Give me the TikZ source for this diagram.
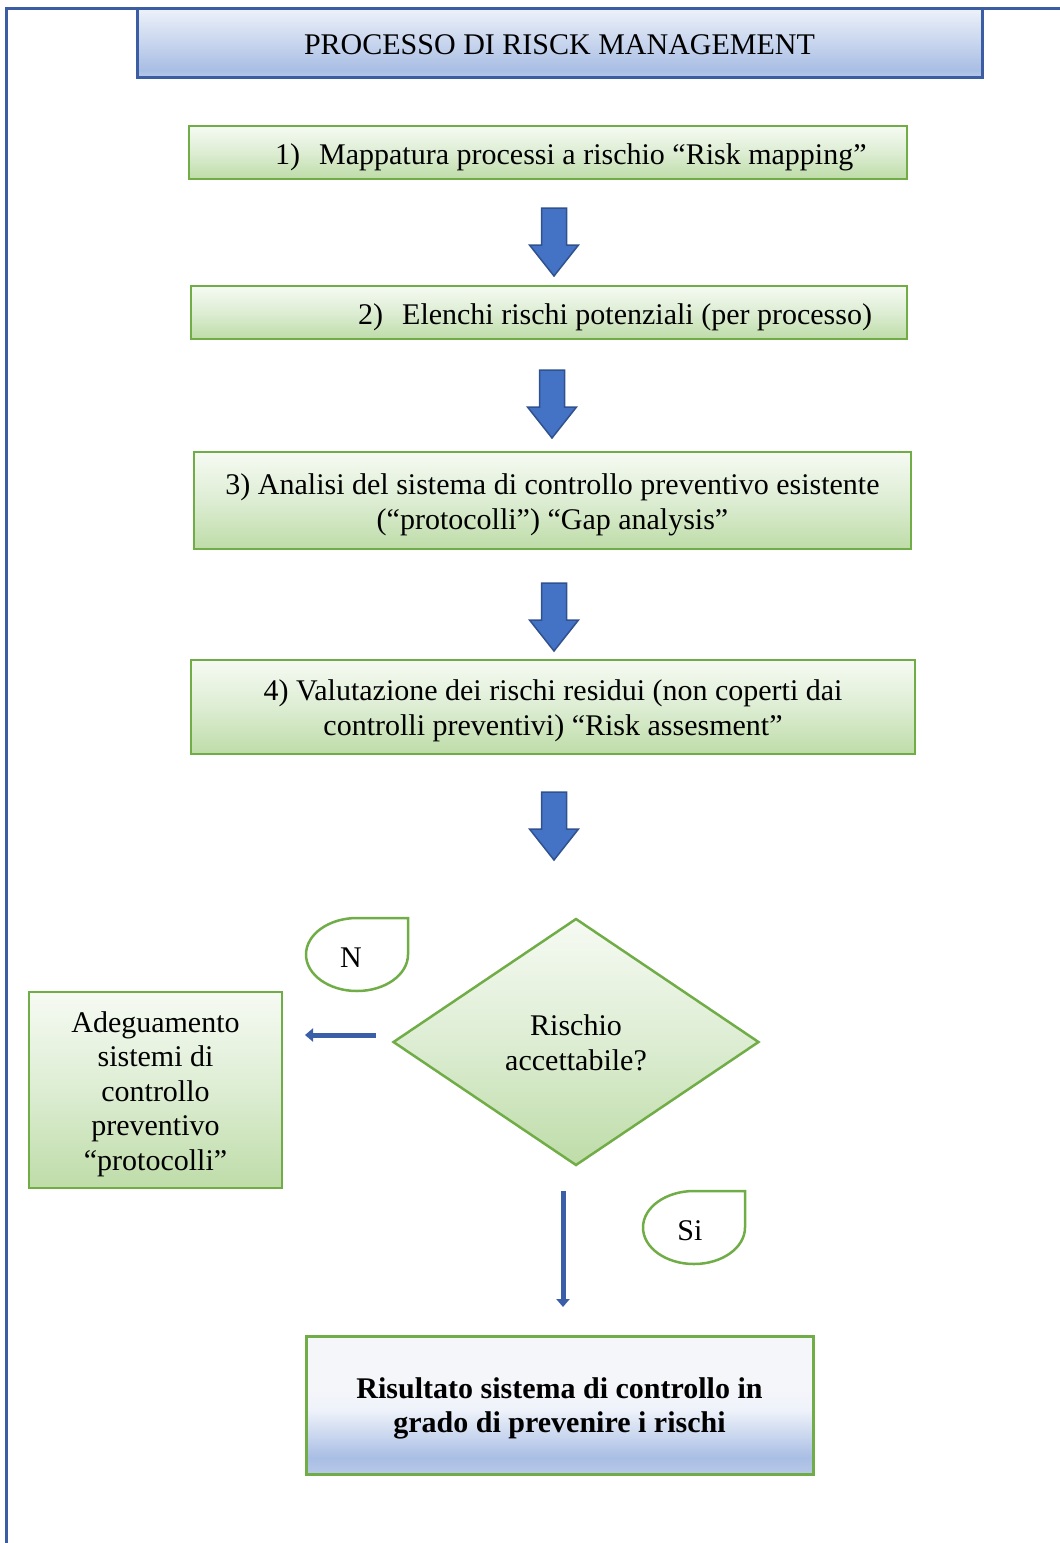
\documentclass[tikz,border=0pt]{standalone}
\usepackage{fontspec}
\setmainfont{Liberation Serif}
\usetikzlibrary{shapes.geometric,arrows.meta}
\definecolor{gborder}{HTML}{70AD47}
\definecolor{bborder}{HTML}{3A5DA3}
\definecolor{afill}{HTML}{4472C4}
\definecolor{aborder}{HTML}{2F528F}
\definecolor{gtop}{HTML}{F6FAF3}
\definecolor{gmid}{HTML}{DDEDD3}
\definecolor{gbot}{HTML}{BEDCA8}
\definecolor{btop}{HTML}{EEF2FA}
\definecolor{bbot}{HTML}{A9BEE4}
\definecolor{bedge}{HTML}{B8C9E9}
\definecolor{wtop}{HTML}{F5F6FA}
\definecolor{thinblue}{HTML}{3A5EA8}
\pgfdeclareverticalshading{greenshade}{100bp}{color(0bp)=(gbot); color(25bp)=(gbot); color(50bp)=(gmid); color(75bp)=(gtop); color(100bp)=(gtop)}
\pgfdeclareverticalshading{titleshade}{100bp}{color(0bp)=(bedge); color(25bp)=(bedge); color(30bp)=(bbot); color(75bp)=(btop); color(100bp)=(btop)}
\pgfdeclareverticalshading{resultshade}{100bp}{color(0bp)=(bedge); color(25bp)=(bedge); color(31bp)=(bbot); color(48bp)=(btop); color(56bp)=(wtop); color(75bp)=(wtop); color(100bp)=(wtop)}
\tikzset{
  txt/.style={font=\fontsize{30}{35}\selectfont, inner sep=0pt, align=center},
  gbox/.style={draw=gborder, line width=2.5pt, shade, shading=greenshade, inner sep=0pt},
  titlebox/.style={rectangle, draw=bborder, line width=3pt, shade, shading=titleshade, inner sep=0pt},
  resbox/.style={rectangle, draw=gborder, line width=3pt, shade, shading=resultshade, inner sep=0pt},
  blockarrow/.style={fill=afill, draw=aborder, line width=1.5pt, line join=miter},
  downarr/.pic={\draw[blockarrow] (-12.5,0) -- (12.5,0) -- (12.5,37) -- (24.5,37) -- (0,68) -- (-24.5,37) -- (-12.5,37) -- cycle;},
  thinarrow/.style={draw=thinblue, line width=5pt, -{Triangle[width=13pt,length=8pt]}},
  tag/.style={draw=gborder, line width=2.5pt, fill=white},
  frame/.style={draw=bborder, line width=3pt}
}
\begin{document}
\begin{tikzpicture}[x=1pt,y=-1pt]
\useasboundingbox (0,0) rectangle (1060,1543);
% outer frame
\draw[frame] (6,1543) -- (6,8) -- (1060,8);
% title
\node[titlebox, minimum width=845pt, minimum height=69pt] (title) at (559.5,42.5) {};
\node[txt, yshift=-2pt] (titletext) at (title.center) {PROCESSO DI RISCK MANAGEMENT};
% step 1
\node[gbox, rectangle, minimum width=718pt, minimum height=53pt] (s1) at (548,152.5) {};
\node[txt, anchor=west, yshift=-5pt] (t1) at (275,152.5) {1)\hspace{19pt}Mappatura processi a rischio “Risk mapping”};
\pic (a1) at (554,208) {downarr};
% step 2
\node[gbox, rectangle, minimum width=716pt, minimum height=53pt] (s2) at (549,312.5) {};
\node[txt, anchor=west, yshift=-5pt] (t2) at (358,312.5) {2)\hspace{19pt}Elenchi rischi potenziali (per processo)};
\pic (a2) at (552,370) {downarr};
% step 3
\node[gbox, rectangle, minimum width=717pt, minimum height=97pt] (s3) at (552.5,500.5) {};
\node[txt, yshift=-4pt] (t3) at (s3.center) {3) Analisi del sistema di controllo preventivo esistente\\(“protocolli”) “Gap analysis”};
\pic (a3) at (554,583) {downarr};
% step 4
\node[gbox, rectangle, minimum width=724pt, minimum height=94pt] (s4) at (553,707) {};
\node[txt, yshift=-4pt] (t4) at (s4.center) {4) Valutazione dei rischi residui (non coperti dai\\controlli preventivi) “Risk assesment”};
\pic (a4) at (554,792) {downarr};
% decision
\node[gbox, diamond, minimum width=366pt, minimum height=247pt] (dia) at (576,1042) {};
\node[txt, yshift=-1pt] (diatext) at (dia.center) {Rischio\\accettabile?};
% N tag
\draw[tag] (408,954.5) arc[start angle=0, end angle=270, x radius=51, y radius=36.5] -- (408,918) -- cycle;
\node[txt] (ntag) at (351,958) {N};
% left box
\node[gbox, rectangle, minimum width=253pt, minimum height=196pt] (adj) at (155.5,1090) {};
\node[txt, font=\fontsize{30}{34.5}\selectfont, yshift=-4pt] (adjtext) at (adj.center) {Adeguamento\\sistemi di\\controllo\\preventivo\\“protocolli”};
% left arrow
\coordinate (lstart) at (376,1035);
\coordinate (lend) at (305,1035);
\draw[thinarrow] (lstart) -- (lend);
% Si tag
\draw[tag] (745,1227.5) arc[start angle=0, end angle=270, x radius=51, y radius=36.5] -- (745,1191) -- cycle;
\node[txt] (sitag) at (690,1231) {Si};
% down arrow
\coordinate (dstart) at (563,1191);
\coordinate (dend) at (563,1307);
\draw[thinarrow] (dstart) -- (dend);
% result
\node[resbox, minimum width=507pt, minimum height=138pt] (res) at (559.5,1405) {};
\node[txt, font=\fontsize{30}{34}\selectfont\bfseries, yshift=-3pt] (restext) at (res.center) {Risultato sistema di controllo in\\grado di prevenire i rischi};
\end{tikzpicture}
\end{document}
